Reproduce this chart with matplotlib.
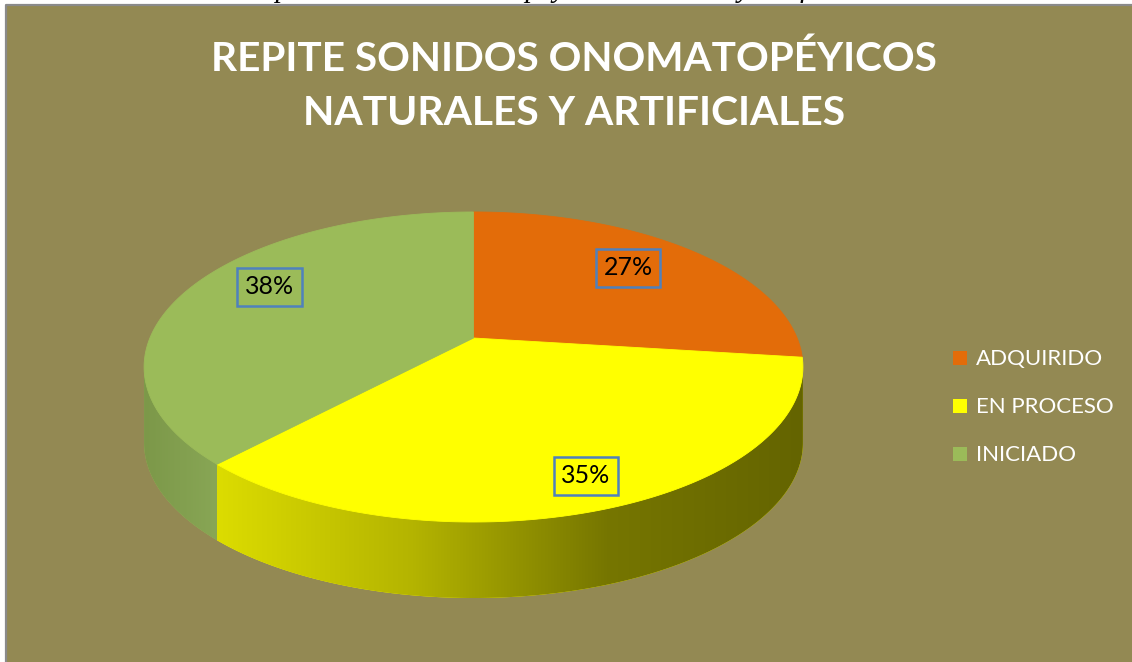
import numpy as np
import matplotlib
matplotlib.use("Agg")
import matplotlib.pyplot as plt
from matplotlib.patches import Polygon, Rectangle
from matplotlib.colors import LinearSegmentedColormap

# datos del gráfico
categorias = ["ADQUIRIDO", "EN PROCESO", "INICIADO"]
valores = [27, 35, 38]
colores = ["#E36C09", "#FFFF00", "#9BBB59"]
titulo = ["REPITE SONIDOS ONOMATOPÉYICOS", "NATURALES Y ARTIFICIALES"]
pie_texto = "Repite sonidos onomatopéyicos naturales y artificiales"

# sombreado de las caras laterales (claro -> oscuro)
sombras = [
    ["#a85008", "#8a4206"],
    ["#dcdc00", "#b4b400", "#767600", "#646400"],
    ["#88a655", "#7c9849"],
]
FONDO = "#938953"

# geometría de la torta en píxeles (perspectiva simple)
CX, CY = 473.5, 338.0
A, S, K = 323.6, 149.6, 0.187
PROF = 76.0

W, H = 1132, 662
fig = plt.figure(figsize=(W / 100, H / 100), dpi=100)
fig.patch.set_facecolor("white")
ax = fig.add_axes([0, 0, 1, 1])
ax.set_xlim(0, W)
ax.set_ylim(H, 0)
ax.axis("off")

# área del gráfico
ax.add_patch(Rectangle((6, 5), W, H, facecolor=FONDO, edgecolor="none", zorder=0))


def proj(phi, r=1.0):
    phi = np.radians(phi)
    X = r * np.sin(phi)
    Y = r * np.cos(phi)
    den = 1 + K * Y
    return CX + A * X / den, CY - S * Y / den


total = sum(valores)
limites = np.concatenate([[0], np.cumsum(valores) / total * 360.0])
vis_ini = np.degrees(np.arccos(-K))
vis_fin = 360.0 - vis_ini

# caras laterales
for i in range(len(valores)):
    a0 = max(limites[i], vis_ini)
    a1 = min(limites[i + 1], vis_fin)
    if a1 <= a0:
        continue
    ang = np.linspace(a0, a1, 200)
    xs, ys = proj(ang)
    pts = np.vstack([np.column_stack([xs, ys]), np.column_stack([xs[::-1], ys[::-1] + PROF])])
    poly = Polygon(pts, closed=True, facecolor=colores[i], edgecolor="none", zorder=1)
    ax.add_patch(poly)
    cmap = LinearSegmentedColormap.from_list(f"lado{i}", sombras[i])
    grad = np.linspace(0, 1, 256).reshape(1, -1)
    x0, x1 = xs.min(), xs.max()
    if i == 2:
        grad = grad[:, ::-1]
    im = ax.imshow(grad, cmap=cmap, aspect="auto", interpolation="bilinear",
                   extent=(x0, x1, ys.max() + PROF + 2, ys.min() - 2), zorder=2)
    im.set_clip_path(poly)

# caras superiores
for i in range(len(valores)):
    ang = np.linspace(limites[i], limites[i + 1], 200)
    xs, ys = proj(ang)
    pts = np.vstack([[CX, CY], np.column_stack([xs, ys])])
    ax.add_patch(Polygon(pts, closed=True, facecolor=colores[i], edgecolor=colores[i],
                         lw=0.6, zorder=3))

# etiquetas de porcentaje
label_xy = [(628, 267.5), (586, 475.5), (269.5, 287)]
for v, (lx, ly) in zip(valores, label_xy):
    ax.text(lx, ly, f"{round(v / total * 100)}%", ha="center", va="center",
            fontsize=18, family="Lato", color="black", zorder=5,
            bbox=dict(boxstyle="square,pad=0.3", fc="none", ec="#4F81BD", lw=1.8))

# título
renderer = fig.canvas.get_renderer()
for linea, base, ancho in zip(titulo, [71, 125], [726, 542]):
    t = ax.text(574, base, linea, ha="center", va="baseline", fontsize=30,
                family="Lato", fontweight="bold", color="white", zorder=5)
    bb = t.get_window_extent(renderer)
    t.set_fontsize(30 * ancho / bb.width)

# leyenda
for j, (cat, col) in enumerate(zip(categorias, colores)):
    base = 365 + 48 * j
    ax.add_patch(Rectangle((953, base - 14), 14, 14, facecolor=col, edgecolor="none", zorder=5))
    ax.text(976, base, cat, ha="left", va="baseline", fontsize=16, family="Lato",
            color="white", zorder=5)

# texto superior cortado por el borde, como en la captura original
ax.text(565, -3, pie_texto, ha="center", va="baseline", fontsize=21,
        family="Liberation Serif", style="italic", color="black", zorder=6)
ax.plot([6, 6, W], [H, 5, 5], color="#8a8a8a", lw=1.6, zorder=7)

fig.savefig("out.png", dpi=100, facecolor=fig.get_facecolor())
